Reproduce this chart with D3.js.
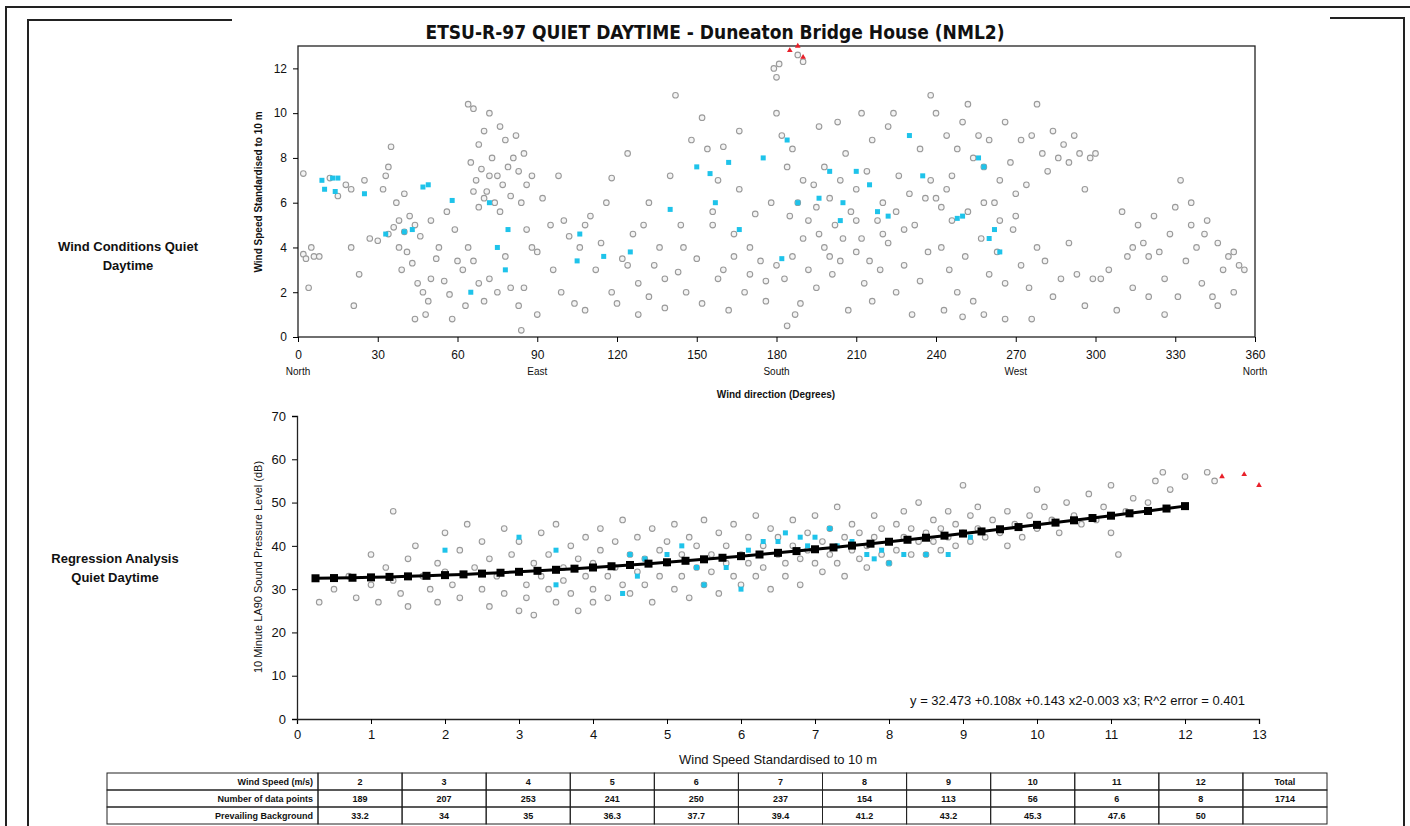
<!DOCTYPE html>
<html>
<meta charset="utf-8" />
<script src="https://d3js.org/d3.v7.min.js"></script>
<style>
  body { margin: 0; background: #fff; }
  text { font-family: "Liberation Sans", Arial, sans-serif; fill: #111; }
</style>
<body>
<svg id="chart" width="1410" height="826"></svg>
<script>
// ---- top chart: wind direction vs speed ----
var dirGrey = [
  [2,3.7],[3,3.5],[4,2.2],[5,4.0],[6,3.6],[8,3.6],[2,7.3],[12,7.1],[15,6.3],[18,6.8],[20,6.6],[20,4.0],[21,1.4],[23,2.8],[25,7.0],[27,4.4],[30,4.3],[32,6.6],[33,7.2],[34,7.6],[35,8.5],
  [34,4.6],[36,4.9],[38,5.2],[40,4.7],[42,5.4],[44,5.0],[46,4.5],[38,4.0],[41,3.8],[43,3.3],[45,2.4],[47,2.0],[44,0.8],[48,1.0],[50,2.6],[52,3.5],[55,2.5],[57,1.9],[58,0.8],[53,4.0],[50,5.2],[40,6.4],[37,6.0],[56,5.6],[59,4.8],[62,3.0],[63,1.4],[60,3.4],[49,1.6],[39,3.0],
  [64,10.4],[66,10.2],[68,8.6],[70,9.2],[72,10.0],[65,7.8],[67,7.0],[69,7.5],[71,6.5],[73,8.0],[75,7.2],[77,6.8],[79,7.6],[81,8.0],[83,7.4],[85,8.2],[86,6.8],[84,6.0],[80,6.3],[76,5.6],[74,6.0],[72,7.2],[70,6.2],[68,5.8],[66,6.5],[78,8.8],[82,9.0],[88,7.2],[76,9.4],[64,4.0],[66,3.4],[68,2.4],[70,1.6],[72,2.6],[75,2.0],[78,3.6],[80,2.2],[83,1.4],[85,2.2],[86,4.8],[88,4.0],[90,3.8],[84,0.3],[90,1.0],[92,6.2],[95,5.0],[96,3.0],[98,7.2],[99,2.0],
  [100,5.2],[102,4.5],[104,1.5],[106,4.0],[108,5.0],[110,5.4],[112,3.0],[114,4.2],[116,6.0],[118,7.1],[120,1.5],[122,3.5],[124,8.2],[126,4.6],[128,2.4],[130,5.0],[132,6.0],[134,3.2],[136,4.0],[138,1.3],[140,7.2],[142,10.8],[143,2.9],[145,4.0],[148,8.8],[150,3.5],[152,9.8],[154,8.4],[156,5.6],[158,7.0],[160,3.0],[162,1.2],[164,4.6],[166,6.6],[168,2.0],[170,4.0],[172,5.5],[174,3.4],[176,2.5],[178,6.0],[108,1.2],[118,2.0],[128,1.0],[138,2.6],[146,2.0],[152,1.5],[158,2.6],[164,3.6],[170,2.8],[176,1.6],[124,3.2],[132,1.8],[156,5.0],[160,8.5],[144,5.0],[166,9.2],
  [179,12.0],[180,11.6],[181,12.2],[180,10.0],[182,9.0],[184,7.6],[186,8.4],[188,6.0],[190,7.0],[192,5.2],[194,6.8],[196,4.6],[198,7.6],[200,6.2],[202,5.0],[204,7.0],[206,8.2],[208,5.6],[210,6.6],[212,4.4],[214,7.4],[216,8.8],[218,5.2],[220,6.0],[222,9.4],[224,10.0],[226,7.2],[228,4.8],[230,6.4],[232,5.0],[234,8.4],[236,6.2],[238,7.0],[180,3.2],[183,2.6],[186,3.6],[189,1.5],[192,3.0],[195,2.2],[198,4.0],[201,2.8],[204,3.4],[207,1.2],[210,3.8],[213,2.4],[216,1.6],[219,3.0],[222,4.2],[225,2.0],[228,3.2],[231,1.0],[234,2.5],[237,3.8],[185,5.4],[190,4.4],[195,5.8],[200,3.6],[205,4.4],[210,5.2],[215,3.4],[220,4.6],[225,5.6],[184,0.5],[187,1.0],[196,9.4],[203,9.6],[212,10.0],[188,12.6],[190,12.3],
  [240,6.2],[242,5.8],[244,6.6],[246,7.2],[248,8.4],[250,9.6],[252,10.4],[254,8.0],[256,9.0],[258,7.6],[260,8.8],[262,6.0],[264,7.0],[266,9.6],[268,7.8],[270,6.4],[272,8.8],[274,6.8],[276,9.0],[278,10.4],[280,8.2],[282,7.4],[284,9.2],[286,8.0],[288,8.6],[290,7.8],[292,9.0],[294,8.2],[296,6.6],[298,8.0],[300,8.2],[242,4.0],[245,3.0],[248,2.0],[251,3.6],[254,1.6],[257,4.4],[260,2.8],[263,3.8],[266,2.4],[269,4.8],[272,3.2],[275,2.2],[278,4.0],[281,3.4],[284,1.8],[287,2.6],[290,4.2],[293,2.8],[296,1.4],[299,2.6],[243,1.2],[250,0.9],[258,1.0],[266,0.8],[276,0.8],[244,9.0],[238,10.8],[240,10.0],[246,5.2],[252,5.6],[258,6.0],[264,5.2],[270,5.4],
  [302,2.6],[305,3.0],[308,1.2],[310,5.6],[312,3.6],[314,2.2],[316,5.0],[318,4.2],[320,1.8],[322,5.4],[324,3.8],[326,2.6],[328,4.6],[330,5.8],[332,7.0],[334,3.4],[336,5.0],[338,4.0],[340,2.4],[342,5.2],[344,1.8],[346,4.2],[348,3.0],[350,3.6],[352,2.0],[354,3.2],[356,3.0],[314,4.0],[320,3.6],[326,1.0],[331,1.8],[336,6.0],[341,4.6],[346,1.4],[352,3.8]
]
var dirBlue = [
  [9,7.0],[10,6.6],[13,7.1],[15,7.1],[14,6.5],[25,6.4],[33,4.6],[40,4.7],[43,4.8],[47,6.7],[49,6.8],[58,6.1],[65,2.0],[72,6.0],[75,4.0],[78,3.0],[79,4.8],[105,3.4],[106,4.6],[115,3.6],[125,3.8],[140,5.7],[150,7.6],[155,7.3],[157,6.0],[162,7.8],[166,4.8],[175,8.0],[182,3.5],[184,8.8],[188,6.0],[196,6.2],[200,7.4],[204,5.2],[205,6.0],[210,7.4],[215,6.8],[218,5.6],[222,5.4],[230,9.0],[235,7.2],[248,5.3],[250,5.4],[256,8.0],[258,7.6],[260,4.4],[262,4.8],[264,3.8]
]
var dirRed = [[185,12.8],[188,13.0],[190,12.5]]
var compass = [[0,"North"],[90,"East"],[180,"South"],[270,"West"],[360,"North"]]

// ---- bottom chart: regression ----
var regGrey = [
  [0.3,27],[0.5,30],[0.7,33],[0.8,28],[1.0,38],[1.0,31],[1.1,27],[1.2,35],[1.3,48],[1.3,32],[1.4,29],[1.5,37],[1.5,26],[1.6,40],[1.7,33],[1.8,30],[1.9,36],[1.9,27],[2.0,43],[2.0,34],[2.1,31],
  [2.2,39],[2.2,28],[2.3,45],[2.4,35],[2.5,30],[2.5,41],[2.6,26],[2.6,37],[2.7,33],[2.8,44],[2.8,29],[2.9,38],[3.0,25],[3.0,34],[3.0,41],[3.1,31],[3.1,28],[3.2,36],[3.2,24],[3.3,43],[3.3,33],[3.4,30],[3.4,38],[3.5,27],[3.5,45],[3.6,35],[3.6,32],[3.7,40],[3.7,29],[3.8,37],[3.8,25],[3.9,33],[3.9,42],[4.0,30],[4.0,36],[4.0,27],
  [4.1,44],[4.1,39],[4.2,33],[4.2,28],[4.3,41],[4.3,35],[4.4,31],[4.4,46],[4.5,38],[4.5,29],[4.6,42],[4.6,34],[4.7,37],[4.7,31],[4.8,44],[4.8,27],[4.9,39],[4.9,33],[5.0,41],[5.0,36],[5.1,30],[5.1,45],[5.2,38],[5.2,33],[5.3,42],[5.3,28],[5.4,40],[5.4,35],[5.5,46],[5.5,31],[5.6,38],[5.6,34],[5.7,43],[5.7,29],[5.8,40],[5.8,36],[5.9,33],[5.9,45],[6.0,38],[6.0,31],
  [6.1,42],[6.1,36],[6.2,47],[6.2,33],[6.3,40],[6.3,35],[6.4,44],[6.4,30],[6.5,38],[6.5,42],[6.6,36],[6.6,33],[6.7,46],[6.7,40],[6.8,37],[6.8,31],[6.9,43],[6.9,39],[7.0,36],[7.0,47],[7.1,41],[7.1,34],[7.2,44],[7.2,38],[7.3,36],[7.3,49],[7.4,42],[7.4,33],[7.5,45],[7.5,39],[7.6,37],[7.6,43],[7.7,40],[7.7,35],[7.8,47],[7.8,42],[7.9,38],[7.9,44],[8.0,41],[8.0,36],
  [8.1,45],[8.1,39],[8.2,48],[8.2,42],[8.3,38],[8.3,44],[8.4,41],[8.4,50],[8.5,43],[8.5,38],[8.6,46],[8.6,41],[8.7,44],[8.7,39],[8.8,48],[8.8,42],[8.9,45],[8.9,40],[9.0,43],[9.0,54],[9.1,47],[9.1,41],[9.2,44],[9.2,49],[9.3,42],[9.4,46],[9.5,43],[9.6,48],[9.6,40],[9.7,45],[9.8,42],[9.9,47],[10.0,44],[10.0,53],[10.1,49],[10.2,46],[10.3,43],[10.4,50],[10.5,47],[10.6,45],
  [10.7,52],[10.8,46],[10.9,49],[11.0,43],[11.0,54],[11.1,38],[11.2,48],[11.3,51],[11.5,50],[11.6,55],[11.7,57],[11.8,53],[12.0,56],[12.3,57],[12.4,55]
]
var regBlue = [
  [2.0,39],[3.0,42],[3.5,39],[4.4,29],[4.5,38],[4.6,33],[4.7,37],[5.0,38],[5.2,40],[5.4,35],[5.8,35],[6.0,30],[6.1,39],[6.3,41],[6.5,41],[6.6,43],[6.8,42],[6.9,40],[7.0,42],[7.2,44],[7.3,40],[7.5,41],[7.7,38],[7.8,37],[7.9,39],[8.0,36],[8.2,38],[8.5,38],[8.8,38],[9.1,42],[3.5,31],[5.5,31]
]
var regRed = [[12.5,56],[12.8,56.5],[13.0,54]]
// fitted curve markers (speed, dB)
var fitSpeed = [0.25,0.5,0.75,1,1.25,1.5,1.75,2,2.25,2.5,2.75,3,3.25,3.5,3.75,4,4.25,4.5,4.75,5,5.25,5.5,5.75,6,6.25,6.5,6.75,7,7.25,7.5,7.75,8,8.25,8.5,8.75,9,9.25,9.5,9.75,10,10.25,10.5,10.75,11,11.25,11.5,11.75,12]
var fitLevel = [32.51,32.56,32.63,32.72,32.83,32.95,33.08,33.24,33.41,33.59,33.79,34.00,34.23,34.47,34.73,35.00,35.29,35.58,35.89,36.21,36.55,36.89,37.25,37.62,38.00,38.39,38.79,39.21,39.63,40.06,40.50,40.95,41.41,41.88,42.36,42.84,43.33,43.83,44.34,44.85,45.37,45.90,46.43,46.97,47.52,48.06,48.62,49.18]

// ---- table ----
var tableSpeeds = ["2","3","4","5","6","7","8","9","10","11","12","Total"]
var tableCounts = ["189","207","253","241","250","237","154","113","56","6","8","1714"]
var tableBackground = ["33.2","34","35","36.3","37.7","39.4","41.2","43.2","45.3","47.6","50",""]

var svg = d3.select("#chart")
var grey = "#9a9a9a", blue = "#1ec3ea", red = "#e8202a"

// page frame lines
var frame = svg.append("g").attr("fill", "none").attr("stroke", "#222")
frame.append("path").attr("d", "M6,826V7H1410").attr("stroke-width", 2)
frame.append("path").attr("d", "M28,826V20H232").attr("stroke-width", 2)
frame.append("path").attr("d", "M1330,18H1404V826").attr("stroke-width", 2)

svg.append("text").attr("x", 715).attr("y", 39).attr("text-anchor", "middle")
  .style("font-family", "'DejaVu Sans Condensed', 'Liberation Sans Narrow', sans-serif")
  .style("font-size", "19px").style("font-weight", "bold").text("ETSU-R-97 QUIET DAYTIME - Duneaton Bridge House (NML2)")

function sideLabel(lines, x, y) {
  var t = svg.append("text").attr("x", x).attr("y", y).attr("text-anchor", "middle")
    .style("font-size", "13px").style("font-weight", "bold")
  lines.forEach(function(l, i) { t.append("tspan").attr("x", x).attr("dy", i ? 19 : 0).text(l) })
}
sideLabel(["Wind Conditions Quiet", "Daytime"], 128, 251)
sideLabel(["Regression Analysis", "Quiet Daytime"], 115, 563)

function squares(g, data, x, y, color, s) {
  g.selectAll(null).data(data).enter().append("rect")
    .attr("x", d => x(d[0]) - s / 2).attr("y", d => y(d[1]) - s / 2)
    .attr("width", s).attr("height", s).attr("fill", color)
}
function triangles(g, data, x, y) {
  g.selectAll(null).data(data).enter().append("path")
    .attr("transform", d => "translate(" + x(d[0]) + "," + y(d[1]) + ")")
    .attr("d", d3.symbol(d3.symbolTriangle, 14)).attr("fill", red)
}
function circles(g, data, x, y) {
  g.selectAll(null).data(data).enter().append("circle")
    .attr("cx", d => x(d[0])).attr("cy", d => y(d[1])).attr("r", 2.8)
    .attr("fill", "#f4f4f4").attr("stroke", grey).attr("stroke-width", 1.1)
}

// top chart
var x1 = d3.scaleLinear().domain([0, 360]).range([298, 1255])
var y1 = d3.scaleLinear().domain([0, 13]).range([337, 46])
var g1 = svg.append("g")
g1.append("rect").attr("x", 298).attr("y", 46).attr("width", 957).attr("height", 291)
  .attr("fill", "none").attr("stroke", "#222").attr("stroke-width", 1.3)
g1.append("g").attr("transform", "translate(0,337)")
  .call(d3.axisBottom(x1).tickValues(d3.range(0, 361, 30)).tickSize(5).tickPadding(8))
  .call(a => a.select(".domain").remove())
g1.append("g").attr("transform", "translate(298,0)")
  .call(d3.axisLeft(y1).tickValues(d3.range(0, 13, 2)).tickSize(5).tickPadding(6))
  .call(a => a.select(".domain").remove())
g1.selectAll(".tick text").style("font-size", "12px").style("font-family", "Liberation Sans, Arial")
circles(g1, dirGrey, x1, y1)
squares(g1, dirBlue, x1, y1, blue, 5)
triangles(g1, dirRed, x1, y1)
g1.selectAll(null).data(compass).enter().append("text")
  .attr("x", d => x1(d[0])).attr("y", 375).attr("text-anchor", "middle")
  .style("font-size", "10px").text(d => d[1])
g1.append("text").attr("x", 776).attr("y", 398).attr("text-anchor", "middle")
  .style("font-size", "10px").style("font-weight", "bold").text("Wind direction (Degrees)")
g1.append("text").attr("transform", "translate(262,192) rotate(-90)").attr("text-anchor", "middle")
  .style("font-size", "10px").style("font-weight", "bold").text("Wind Speed Standardised to 10 m")

// bottom chart
var x2 = d3.scaleLinear().domain([0, 13]).range([297, 1259])
var y2 = d3.scaleLinear().domain([0, 70]).range([719, 416])
var g2 = svg.append("g")
g2.append("g").attr("transform", "translate(0,719)")
  .call(d3.axisBottom(x2).ticks(13).tickSize(5).tickPadding(6))
g2.append("g").attr("transform", "translate(297,0)")
  .call(d3.axisLeft(y2).ticks(7).tickSize(5).tickPadding(6))
g2.selectAll(".domain").attr("stroke", "#222").attr("stroke-width", 1.3)
g2.selectAll(".tick text").style("font-size", "13px").style("font-family", "Liberation Sans, Arial")
circles(g2, regGrey, x2, y2)
squares(g2, regBlue, x2, y2, blue, 5)
triangles(g2, regRed, x2, y2)
var fit = fitSpeed.map((s, i) => [s, fitLevel[i]])
g2.append("path").datum(fit).attr("fill", "none").attr("stroke", "#000").attr("stroke-width", 3)
  .attr("d", d3.line().x(d => x2(d[0])).y(d => y2(d[1])))
squares(g2, fit, x2, y2, "#000", 8)
g2.append("text").attr("x", 1245).attr("y", 705).attr("text-anchor", "end")
  .style("font-size", "13px").text("y = 32.473 +0.108x +0.143 x2-0.003 x3; R^2 error = 0.401")
g2.append("text").attr("x", 778).attr("y", 764).attr("text-anchor", "middle")
  .style("font-size", "13px").text("Wind Speed Standardised to 10 m")
g2.append("text").attr("transform", "translate(262,567) rotate(-90)").attr("text-anchor", "middle")
  .style("font-size", "11px").text("10 Minute LA90 Sound Pressure Level (dB)")

// table
var colX = d3.scaleBand().domain(tableSpeeds).range([318, 1327])
var rowY = d3.scaleBand().domain([0, 1, 2]).range([773, 824])
var rows = [["Wind Speed (m/s)", tableSpeeds], ["Number of data points", tableCounts], ["Prevailing Background", tableBackground]]
var tg = svg.append("g")
rows.forEach(function(r, i) {
  tg.append("rect").attr("x", 107).attr("y", rowY(i)).attr("width", 211).attr("height", rowY.bandwidth())
    .attr("fill", "none").attr("stroke", "#222")
  tg.append("text").attr("x", 313).attr("y", rowY(i) + 12).attr("text-anchor", "end")
    .style("font-size", "9px").style("font-weight", "bold").text(r[0])
  r[1].forEach(function(v, j) {
    var c = tableSpeeds[j]
    tg.append("rect").attr("x", colX(c)).attr("y", rowY(i)).attr("width", colX.bandwidth()).attr("height", rowY.bandwidth())
      .attr("fill", "none").attr("stroke", "#222")
    tg.append("text").attr("x", colX(c) + colX.bandwidth() / 2).attr("y", rowY(i) + 12).attr("text-anchor", "middle")
      .style("font-size", "9px").style("font-weight", "bold").text(v)
  })
})
</script>
</body>
</html>
